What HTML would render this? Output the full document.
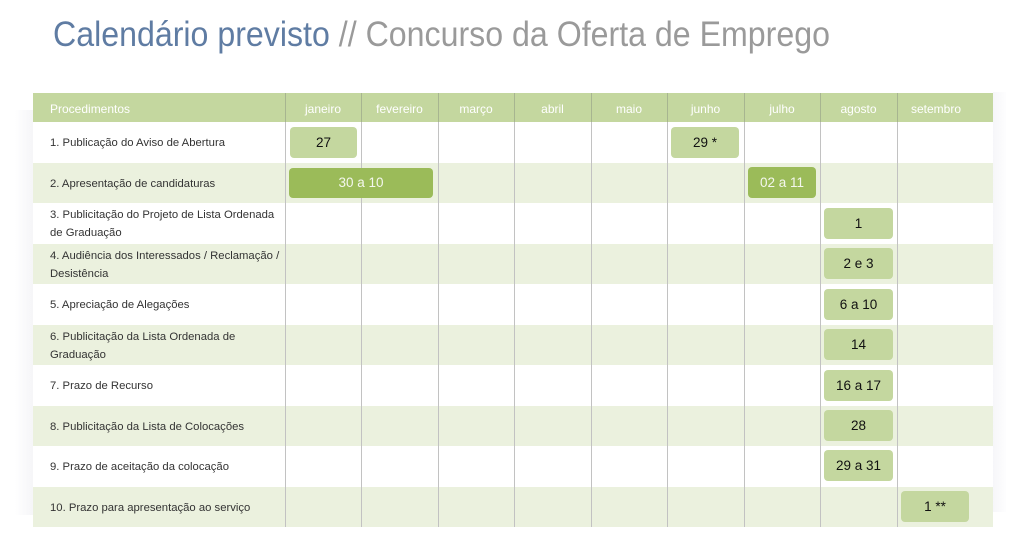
<!DOCTYPE html>
<html><head><meta charset="utf-8"><style>
*{margin:0;padding:0;box-sizing:border-box}
body{width:1017px;height:545px;background:#fff;position:relative;overflow:hidden;font-family:"Liberation Sans",sans-serif}
.a{position:absolute}
.shL{left:15px;top:110px;width:18px;height:405px;background:linear-gradient(to right,rgba(245,245,248,0),rgba(243,243,246,0.8))}
.shR{left:993px;top:92px;width:13px;height:420px;background:linear-gradient(to right,rgba(244,244,248,0.8),rgba(250,250,252,0.3))}
.hdr{left:33px;top:93px;width:960px;height:29px;background:#c4d79f}
.row{left:33px;width:960px;height:40.5px}
.alt{background:#ebf1de}
.vl{width:1px;background:#c2c2c2;top:93px;height:434px}
.hv{width:1px;background:#a7b590;top:93px;height:29px}
.ht{color:#fff;font-size:12px;top:94.5px;height:29px;line-height:29px;text-align:center}
.rt{left:50px;font-size:11.3px;color:#333;line-height:18px;display:flex;align-items:center;height:40.5px;padding-top:2px;white-space:nowrap}
.p{border-radius:4px;background:#c4d79f;color:#111;font-size:13.5px;text-align:center;height:31px;line-height:31px}
.d{background:#9bbb59;color:#f4f7ee}
</style></head><body>
<svg class="a" style="left:0;top:0" width="1017" height="70">
<text x="53" y="46" font-family="Liberation Sans, sans-serif" font-size="35" textLength="777" lengthAdjust="spacingAndGlyphs"><tspan fill="#5f7ca3">Calendário previsto</tspan><tspan fill="#9a9a9a"> // Concurso da Oferta de Emprego</tspan></text>
</svg>
<div class="a shL"></div>
<div class="a shR"></div>
<div class="a hdr"></div>
<div class="a row" style="top:122px"></div>
<div class="a row alt" style="top:162.5px"></div>
<div class="a row" style="top:203px"></div>
<div class="a row alt" style="top:243.5px"></div>
<div class="a row" style="top:284px"></div>
<div class="a row alt" style="top:324.5px"></div>
<div class="a row" style="top:365px"></div>
<div class="a row alt" style="top:405.5px"></div>
<div class="a row" style="top:446px"></div>
<div class="a row alt" style="top:486.5px"></div>

<div class="a vl" style="left:285px"></div>
<div class="a vl" style="left:361px"></div>
<div class="a vl" style="left:438px"></div>
<div class="a vl" style="left:514px"></div>
<div class="a vl" style="left:591px"></div>
<div class="a vl" style="left:667px"></div>
<div class="a vl" style="left:744px"></div>
<div class="a vl" style="left:820px"></div>
<div class="a vl" style="left:897px"></div>
<div class="a hv" style="left:285px"></div>
<div class="a hv" style="left:361px"></div>
<div class="a hv" style="left:438px"></div>
<div class="a hv" style="left:514px"></div>
<div class="a hv" style="left:591px"></div>
<div class="a hv" style="left:667px"></div>
<div class="a hv" style="left:744px"></div>
<div class="a hv" style="left:820px"></div>
<div class="a hv" style="left:897px"></div>

<div class="a ht" style="left:50px;text-align:left">Procedimentos</div>
<div class="a ht" style="left:285px;width:76px">janeiro</div>
<div class="a ht" style="left:361px;width:77px">fevereiro</div>
<div class="a ht" style="left:438px;width:76px">março</div>
<div class="a ht" style="left:514px;width:77px">abril</div>
<div class="a ht" style="left:591px;width:76px">maio</div>
<div class="a ht" style="left:667px;width:77px">junho</div>
<div class="a ht" style="left:744px;width:76px">julho</div>
<div class="a ht" style="left:820px;width:77px">agosto</div>
<div class="a ht" style="left:897px;width:78px">setembro</div>

<div class="a rt" style="top:122px">1. Publicação do Aviso de Abertura</div>
<div class="a rt" style="top:162.5px">2. Apresentação de candidaturas</div>
<div class="a rt" style="top:203px">3. Publicitação do Projeto de Lista Ordenada<br>de Graduação</div>
<div class="a rt" style="top:243.5px">4. Audiência dos Interessados / Reclamação /<br>Desistência</div>
<div class="a rt" style="top:284px">5. Apreciação de Alegações</div>
<div class="a rt" style="top:324.5px">6. Publicitação da Lista Ordenada de<br>Graduação</div>
<div class="a rt" style="top:365px">7. Prazo de Recurso</div>
<div class="a rt" style="top:405.5px">8. Publicitação da Lista de Colocações</div>
<div class="a rt" style="top:446px">9. Prazo de aceitação da colocação</div>
<div class="a rt" style="top:486.5px">10. Prazo para apresentação ao serviço</div>

<div class="a p" style="left:290px;top:127px;width:67px">27</div>
<div class="a p d" style="left:289px;top:168px;width:144px;height:30px;line-height:30px">30 a 10</div>
<div class="a p" style="left:671px;top:127px;width:68px">29 *</div>
<div class="a p d" style="left:748px;top:167px;width:68px">02 a 11</div>
<div class="a p" style="left:824px;top:208px;width:69px">1</div>
<div class="a p" style="left:824px;top:248px;width:69px">2 e 3</div>
<div class="a p" style="left:824px;top:289px;width:69px">6 a 10</div>
<div class="a p" style="left:824px;top:329px;width:69px">14</div>
<div class="a p" style="left:824px;top:370px;width:69px">16 a 17</div>
<div class="a p" style="left:824px;top:410px;width:69px">28</div>
<div class="a p" style="left:824px;top:450px;width:69px">29 a 31</div>
<div class="a p" style="left:901px;top:491px;width:68px">1 **</div>
</body></html>
